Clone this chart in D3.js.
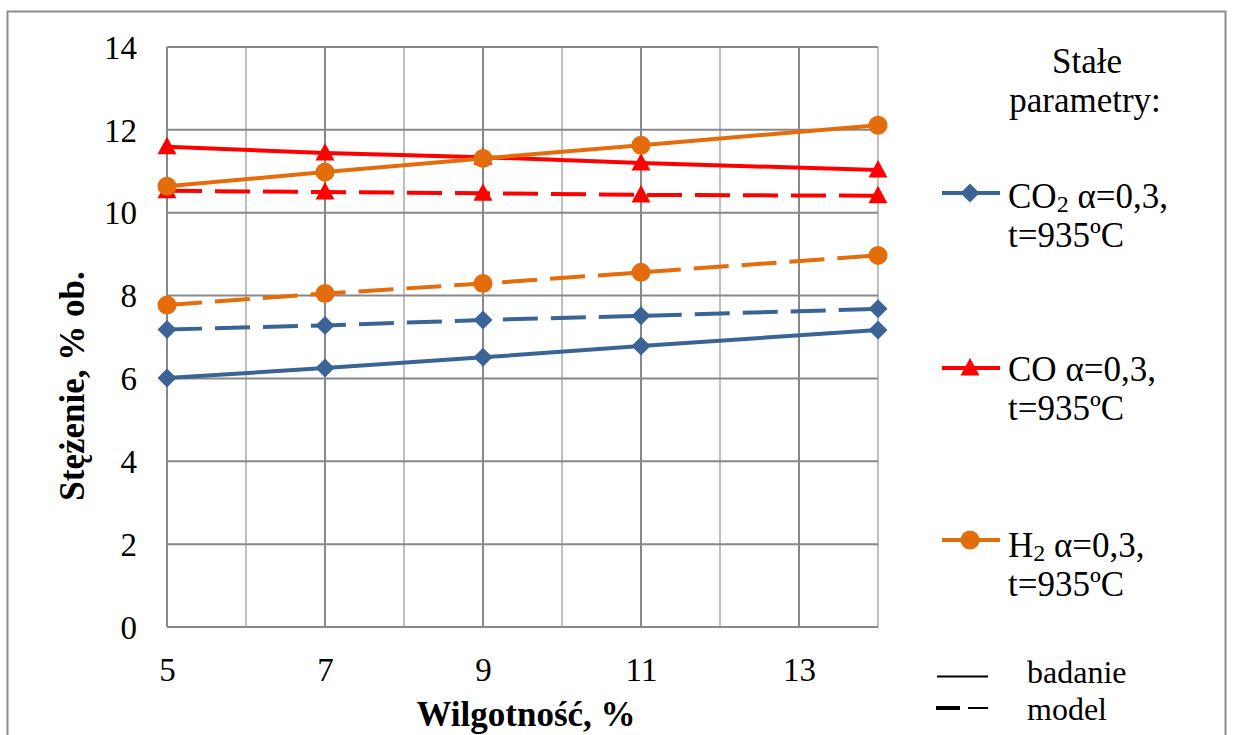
<!DOCTYPE html>
<html>
<head>
<meta charset="utf-8">
<script src="https://cdn.jsdelivr.net/npm/d3@7"></script>
<style>
  html, body { margin: 0; padding: 0; background: #fff; }
  svg { display: block; font-family: "Liberation Serif", "Times New Roman", serif; }
</style>
</head>
<body>
<svg id="chart" width="1233" height="735"></svg>
<script>
// Moisture content of the fuel (x axis, %)
const moisture = [5, 7, 9, 11, 14];

// Gas concentration, % vol. — measured (badanie) and model
const co2Measured = [6.01, 6.25, 6.51, 6.78, 7.17];
const co2Model    = [7.18, 7.28, 7.41, 7.51, 7.68];
const coMeasured  = [11.59, 11.44, 11.34, 11.20, 11.03];
const coModel     = [10.53, 10.50, 10.47, 10.43, 10.41];
const h2Measured  = [10.64, 10.98, 11.31, 11.63, 12.11];
const h2Model     = [7.77, 8.05, 8.29, 8.56, 8.97];

// Axis ticks
const xTickLabels = [5, 7, 9, 11, 13];
const yTickLabels = [0, 2, 4, 6, 8, 10, 12, 14];

const svg = d3.select("#chart");

const x = d3.scaleLinear().domain([5, 14]).range([167, 878]);
const y = d3.scaleLinear().domain([0, 14]).range([627, 47]);

const C_CO2 = "#3A6496";
const C_CO = "#FF0000";
const C_H2 = "#E46C0A";
const GRID_DARK = "#888888";
const GRID_LIGHT = "#BFBFBF";

// outer chart border
svg.append("rect")
  .attr("x", 7.5).attr("y", 11.5)
  .attr("width", 1218).attr("height", 760)
  .attr("fill", "none").attr("stroke", "#8c8c8c").attr("stroke-width", 2);

// vertical grid: odd values darker, even values lighter
const vGrid = d3.range(5, 15);
svg.append("g").selectAll("line").data(vGrid).join("line")
  .attr("x1", d => x(d)).attr("x2", d => x(d))
  .attr("y1", y(14)).attr("y2", y(0))
  .attr("stroke", d => (d % 2 === 1 ? GRID_DARK : GRID_LIGHT))
  .attr("stroke-width", 2);

// horizontal grid
svg.append("g").selectAll("line").data(yTickLabels).join("line")
  .attr("x1", x(5)).attr("x2", x(14))
  .attr("y1", d => y(d)).attr("y2", d => y(d))
  .attr("stroke", GRID_DARK)
  .attr("stroke-width", 2);

// axes (labels only)
const xAxis = svg.append("g")
  .attr("transform", `translate(0,${y(0)})`)
  .call(d3.axisBottom(x).tickValues(xTickLabels).tickSize(0).tickPadding(31).tickFormat(d3.format("d")));
const yAxis = svg.append("g")
  .attr("transform", `translate(137,0)`)
  .call(d3.axisLeft(y).tickValues(yTickLabels).tickSize(0).tickPadding(0).tickFormat(d3.format("d")));
[xAxis, yAxis].forEach(a => {
  a.select(".domain").remove();
  a.selectAll("text")
    .attr("font-family", "Liberation Serif")
    .attr("font-size", 33)
    .attr("fill", "#000");
});
yAxis.selectAll("text").attr("dy", "0.34em");

// axis titles
svg.append("text")
  .attr("x", 526).attr("y", 726)
  .attr("text-anchor", "middle")
  .attr("font-size", 35).attr("font-weight", "bold")
  .text("Wilgotność, %");
svg.append("text")
  .attr("transform", "translate(84,386) rotate(-90)")
  .attr("text-anchor", "middle")
  .attr("font-size", 35).attr("font-weight", "bold")
  .text("Stężenie, % ob.");

// markers
function drawMarker(g, shape, color, cx, cy) {
  if (shape === "diamond") {
    g.append("path")
      .attr("d", `M${cx},${cy - 9.5}L${cx + 9.5},${cy}L${cx},${cy + 9.5}L${cx - 9.5},${cy}Z`)
      .attr("fill", color);
  } else if (shape === "triangle") {
    g.append("path")
      .attr("d", `M${cx},${cy - 10}L${cx + 9.5},${cy + 7.5}L${cx - 9.5},${cy + 7.5}Z`)
      .attr("fill", color);
  } else {
    g.append("circle").attr("cx", cx).attr("cy", cy).attr("r", 9.5).attr("fill", color);
  }
}

const line = d3.line().x(d => x(d[0])).y(d => y(d[1]));

const series = [
  { vals: co2Model,    color: C_CO2, shape: "diamond",  dashed: true },
  { vals: co2Measured, color: C_CO2, shape: "diamond",  dashed: false },
  { vals: coModel,     color: C_CO,  shape: "triangle", dashed: true },
  { vals: h2Model,     color: C_H2,  shape: "circle",   dashed: true },
  { vals: coMeasured,  color: C_CO,  shape: "triangle", dashed: false },
  { vals: h2Measured,  color: C_H2,  shape: "circle",   dashed: false }
];

series.forEach(s => {
  const g = svg.append("g");
  const pts = moisture.map((m, i) => [m, s.vals[i]]);
  g.append("path")
    .attr("d", line(pts))
    .attr("fill", "none")
    .attr("stroke", s.color)
    .attr("stroke-width", 4)
    .attr("stroke-dasharray", s.dashed ? "35,13" : null);
  pts.forEach(p => drawMarker(g, s.shape, s.color, x(p[0]), y(p[1])));
});

// legend
const leg = svg.append("g").attr("font-size", 35).attr("fill", "#000");
leg.append("text").attr("x", 1087).attr("y", 73).attr("text-anchor", "middle").text("Stałe");
leg.append("text").attr("x", 1085).attr("y", 112).attr("text-anchor", "middle").text("parametry:");

const legendItems = [
  { color: C_CO2, shape: "diamond",  ly: 193, base: 208, gas: "CO", sub: "2" },
  { color: C_CO,  shape: "triangle", ly: 368, base: 381, gas: "CO", sub: null },
  { color: C_H2,  shape: "circle",   ly: 540, base: 557, gas: "H", sub: "2" }
];
legendItems.forEach(it => {
  const g = leg.append("g");
  g.append("line")
    .attr("x1", 942).attr("x2", 1000).attr("y1", it.ly).attr("y2", it.ly)
    .attr("stroke", it.color).attr("stroke-width", 4);
  drawMarker(g, it.shape, it.color, 970, it.ly);
  const t = g.append("text").attr("x", 1008).attr("y", it.base);
  t.append("tspan").text(it.gas);
  if (it.sub) t.append("tspan").attr("font-size", 24).attr("dy", 4).text(it.sub);
  t.append("tspan").attr("dy", it.sub ? -4 : 0).text(" α=0,3,");
  g.append("text").attr("x", 1008).attr("y", it.base + 39).text("t=935ºC");
});

// line-style key
const key = svg.append("g").attr("font-size", 32).attr("fill", "#000");
key.append("line").attr("x1", 937).attr("x2", 988).attr("y1", 676.5).attr("y2", 676.5)
  .attr("stroke", "#000").attr("stroke-width", 2);
key.append("text").attr("x", 1027).attr("y", 683).text("badanie");
key.append("line").attr("x1", 936).attr("x2", 960).attr("y1", 708).attr("y2", 708)
  .attr("stroke", "#000").attr("stroke-width", 4);
key.append("line").attr("x1", 968).attr("x2", 988).attr("y1", 708).attr("y2", 708)
  .attr("stroke", "#000").attr("stroke-width", 2);
key.append("text").attr("x", 1027).attr("y", 720).text("model");
</script>
</body>
</html>
